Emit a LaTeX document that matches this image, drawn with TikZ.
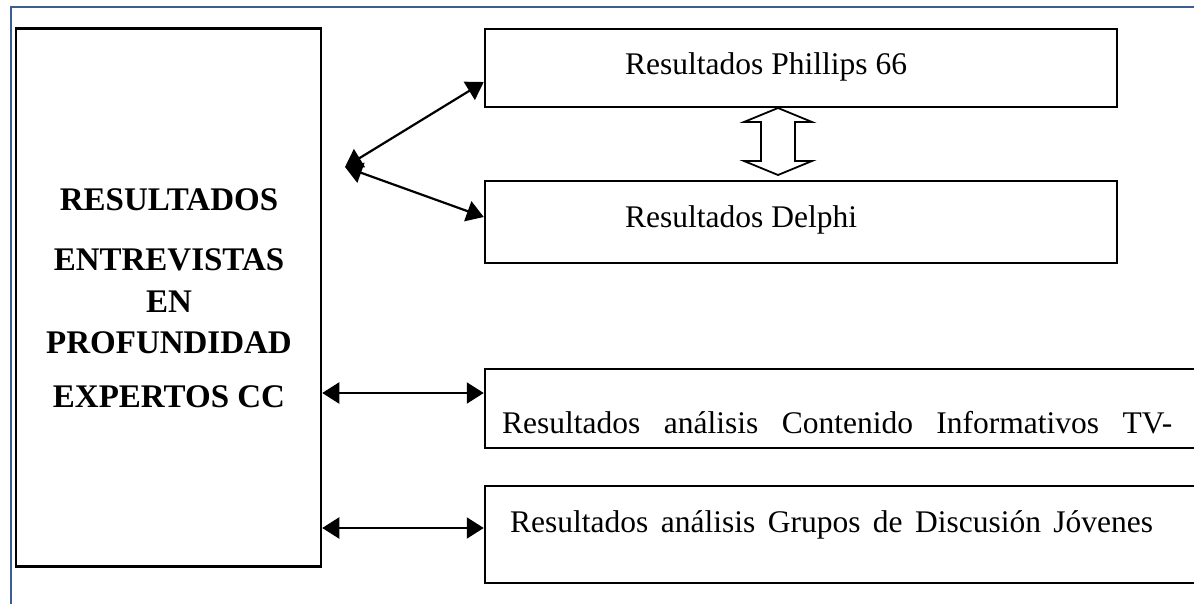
\documentclass[tikz,border=0pt]{standalone}
\usepackage{fontspec}
\setmainfont{Liberation Serif}
\usetikzlibrary{arrows.meta}
\definecolor{frameBlue}{RGB}{58,94,146}

\begin{document}
\begin{tikzpicture}[x=1pt,y=-1pt,
    box/.style={draw, line width=2.5pt, inner sep=0pt},
    link/.style={{Triangle[length=17pt,width=21pt]}-{Triangle[length=17pt,width=21pt]}, line width=2.2pt},
    headtxt/.style={font=\fontsize{33}{38}\selectfont\bfseries, anchor=base, inner sep=0pt},
    restxt/.style={font=\fontsize{31.5}{38}\selectfont, anchor=base west, inner sep=0pt}]
    \useasboundingbox (0,0) rectangle (1194,604);
    \draw[frameBlue, line width=2pt] (11,604) -- (11,7) -- (1194,7);

    % boxes
    \node[box, minimum width=305pt, minimum height=538pt] (expertos) at (168.5,297.5) {};
    \node[box, minimum width=632pt, minimum height=78pt] (phillips) at (801,68) {};
    \node[box, minimum width=632pt, minimum height=82pt] (delphi) at (801,222) {};
    \node[box, minimum width=720pt, minimum height=79pt] (contenido) at (845,408.5) {};
    \node[box, minimum width=720pt, minimum height=97pt] (grupos) at (845,534.5) {};

    % texts
    \node[headtxt] (l1) at (169,211) {RESULTADOS};
    \node[headtxt] (l2) at (169,270) {ENTREVISTAS};
    \node[headtxt] (l3) at (169,312) {EN};
    \node[headtxt] (l4) at (169,353) {PROFUNDIDAD};
    \node[headtxt] (l5) at (169,407) {EXPERTOS CC};
    \node[restxt] (t1) at (625,75) {Resultados Phillips 66};
    \node[restxt] (t2) at (625,228) {Resultados Delphi};
    \node[restxt] (t3) at (502,433) {\hbox to 670pt{Resultados\hfill análisis\hfill Contenido\hfill Informativos\hfill TV-}};
    \node[restxt] (t4) at (510,532) {\hbox to 643pt{Resultados\hfill análisis\hfill Grupos\hfill de\hfill Discusión\hfill Jóvenes}};

    % arrows
    \coordinate (fork) at (345,167);
    \draw[link] (fork) -- ([yshift=-14pt]phillips.west);
    \draw[link] (fork) -- ([yshift=5pt]delphi.west);
    \coordinate (c3) at ([yshift=15.5pt]contenido.west);
    \coordinate (c4) at ([yshift=6.5pt]grupos.west);
    \draw[link] (expertos.east |- c3) -- (c3);
    \draw[link] (expertos.east |- c4) -- (c4);

    % hollow double arrow
    \draw[line width=1.8pt, fill=white] (778,108) -- (812,122) -- (795,122) -- (795,161) -- (812,161)
        -- (778,175) -- (744,161) -- (761,161) -- (761,122) -- (744,122) -- cycle;
\end{tikzpicture}
\end{document}
